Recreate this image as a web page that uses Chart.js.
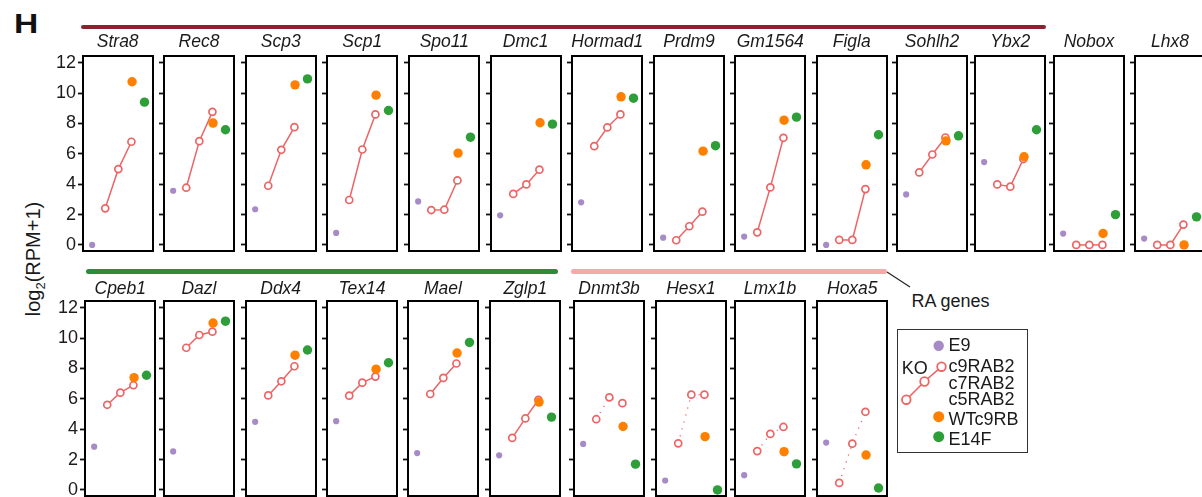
<!DOCTYPE html>
<html>
<head>
<meta charset="utf-8">
<script src="https://cdn.jsdelivr.net/npm/chart.js@4.4.1/dist/chart.umd.min.js"></script>
<style>
  html,body{margin:0;padding:0;background:#fff;}
  body{width:1202px;height:497px;overflow:hidden;position:relative;font-family:"Liberation Sans",Arial,sans-serif;color:#1a1a1a;}
  .abs{position:absolute;white-space:nowrap;}
  .gene{position:absolute;width:100px;text-align:center;font-style:italic;font-size:17.5px;line-height:17.5px;z-index:5;}
  .lg{position:absolute;font-size:18px;line-height:18px;white-space:nowrap;}
  canvas{position:absolute;}
</style>
</head>
<body>
<script>
// ---------- data ----------
const genesTop = ['Stra8','Rec8','Scp3','Scp1','Spo11','Dmc1','Hormad1','Prdm9','Gm1564','Figla','Sohlh2','Ybx2','Nobox','Lhx8'];
const genesBottom = ['Cpeb1','Dazl','Ddx4','Tex14','Mael','Zglp1','Dnmt3b','Hesx1','Lmx1b','Hoxa5'];
const raGenes = ['Dnmt3b','Hesx1','Lmx1b','Hoxa5'];
const yTicks = [0,2,4,6,8,10,12];
const seriesNames = ['E9','c5RAB2','c7RAB2','c9RAB2','WTc9RB','E14F'];
// values per gene (order: genesTop then genesBottom), log2(RPM+1)
const e9     = [0.00,3.57,2.35,0.79,2.87,1.95,2.81,0.48,0.55,0.00,3.33,5.46,0.75,0.42, 2.85,2.54,4.49,4.53,2.43,2.28,3.03,0.62,0.97,3.12];
const c5RAB2 = [2.41,3.77,3.90,2.96,2.30,3.36,6.51,0.31,0.83,0.33,4.78,3.99,0.00,0.00, 5.61,9.37,6.23,6.21,6.32,3.43,4.66,3.07,2.56,0.46];
const c7RAB2 = [5.00,6.84,6.27,6.29,2.32,3.99,7.74,1.23,3.79,0.33,5.96,3.84,0.00,0.00, 6.41,10.21,7.16,7.07,7.38,4.71,6.10,6.28,3.69,3.05];
const c9RAB2 = [6.80,8.77,7.76,8.60,4.25,4.96,8.60,2.19,7.06,3.68,7.08,5.66,0.00,1.34, 6.90,10.43,8.15,7.47,8.33,5.94,5.72,6.28,4.15,5.15];
const wtc9RB = [10.75,8.03,10.55,9.87,6.05,8.05,9.76,6.18,8.22,5.28,6.86,5.81,0.75,0.00, 7.40,11.00,8.88,7.96,9.02,5.79,4.18,3.51,2.52,2.30];
const e14F   = [9.41,7.59,10.94,8.86,7.10,7.96,9.67,6.54,8.42,7.26,7.19,7.59,2.00,1.85, 7.56,11.12,9.22,8.38,9.72,4.80,1.70,0.00,1.72,0.13];
const xPos = {E9:0, c5RAB2:1, c7RAB2:2, c9RAB2:3, WTc9RB:3.05, E14F:4};

// ---------- layout (positions only) ----------
const topLefts = [82.7,164,245.7,327.3,409.3,490.7,572.3,654,735.3,816.7,897,975.3,1054,1135];
const bottomLefts = [85.3,164,245.7,327,408,490.3,574,656,735,817.3];
const BOX_W = 70, BOX_H = 195.2;
const ROW_TOP = [56, 301];
const TITLE_TOP = [33.2, 280.2];
const Y_MIN = -0.4, Y_MAX = 12.45, X_MIN = -0.7, X_MAX = 4.65;

const PURPLE = '#a68bc7', SALMON = '#ee6464', ORANGE = '#ff8000', GREEN = '#2e9e38';

function addDiv(cls, html, style){
  const d = document.createElement('div');
  d.className = cls; d.innerHTML = html; d.setAttribute('style', style);
  document.body.appendChild(d); return d;
}

// Panel label and axis title
addDiv('abs','H','left:14px;top:10px;font-weight:bold;font-size:28px;line-height:28px;transform:scaleX(1.2);transform-origin:left top;color:#111;');
addDiv('abs','log<span style="font-size:13px;position:relative;top:5px;">2</span>(RPM+1)',
  'left:34px;top:259px;font-size:20px;line-height:20px;transform:translate(-50%,-50%) rotate(-90deg);color:#1a1a1a;');

// group bars
addDiv('abs','','left:81px;top:24.5px;width:965px;height:4.6px;border-radius:3px;background:#8c2230;');
addDiv('abs','','left:86px;top:269.4px;width:472px;height:4.6px;border-radius:3px;background:#2e8b3c;');
addDiv('abs','','left:571px;top:269.4px;width:316px;height:4.6px;border-radius:3px;background:#f7a8a8;');
addDiv('abs','RA genes','left:911.5px;top:292px;font-size:18px;line-height:18px;');

// svg overlay (connector + legend markers)
const svgNS = 'http://www.w3.org/2000/svg';
const svg = document.createElementNS(svgNS,'svg');
svg.setAttribute('width','1202'); svg.setAttribute('height','497');
svg.setAttribute('style','position:absolute;left:0;top:0;z-index:6;pointer-events:none;');
document.body.appendChild(svg);
function sv(tag, attrs){ const e = document.createElementNS(svgNS, tag); for (const k in attrs) e.setAttribute(k, attrs[k]); svg.appendChild(e); return e; }
sv('line',{x1:887,y1:272,x2:910,y2:287,stroke:'#222','stroke-width':1.2});

// legend
addDiv('abs','','left:897px;top:329.3px;width:131.3px;height:124px;border:1.5px solid #333;box-sizing:border-box;background:#fff;z-index:5;');
sv('circle',{cx:938.7,cy:345.7,r:5.2,fill:PURPLE});
sv('polyline',{points:'906.3,399.7 924.5,381.5 941.5,366.7',fill:'none',stroke:SALMON,'stroke-width':1.6});
[[906.3,399.7],[924.5,381.5],[941.5,366.7]].forEach(p=>sv('circle',{cx:p[0],cy:p[1],r:4.3,fill:'#fff',stroke:SALMON,'stroke-width':1.8}));
sv('circle',{cx:938.7,cy:416.7,r:5.5,fill:ORANGE});
sv('circle',{cx:938.7,cy:436.7,r:5.5,fill:GREEN});
const lgItems = [['E9',351],['c9RAB2',372],['c7RAB2',389.3],['c5RAB2',405.3],['WTc9RB',425.7],['E14F',445]];
lgItems.forEach(([t,b])=>addDiv('lg',t,`left:948.5px;top:${b-15.24}px;z-index:7;`));
addDiv('lg','KO','left:901.7px;top:'+(374-15.24)+'px;z-index:7;');

// ---------- charts ----------
const boxPlugin = {
  id:'panelBox',
  afterDatasetsDraw(chart){
    const {ctx, chartArea:a} = chart;
    ctx.save(); ctx.strokeStyle = '#000'; ctx.lineWidth = 2;
    ctx.strokeRect(a.left, a.top, a.right - a.left, a.bottom - a.top);
    ctx.restore();
  }
};

const allGenes = genesTop.concat(genesBottom);
allGenes.forEach((g, i) => {
  const row = i < genesTop.length ? 0 : 1;
  const left = row === 0 ? topLefts[i] : bottomLefts[i - genesTop.length];
  const first = (i === 0 || i === genesTop.length);
  const axW = first ? 50 : 6, padR = 6, padT = 16, padB = 16;

  addDiv('gene', g, `left:${left + BOX_W/2 - 50}px;top:${TITLE_TOP[row]}px;`);

  const cv = document.createElement('canvas');
  cv.width = axW + BOX_W + padR; cv.height = BOX_H + padT + padB;
  cv.style.left = (left - axW) + 'px'; cv.style.top = (ROW_TOP[row] - padT) + 'px';
  cv.style.width = cv.width + 'px'; cv.style.height = cv.height + 'px';
  document.body.appendChild(cv);

  const dotted = raGenes.includes(g);
  new Chart(cv, {
    type: 'scatter',
    data: { datasets: [
      { label:'E14F', data:[{x:xPos.E14F, y:e14F[i]}], pointRadius:4.7, backgroundColor:GREEN, borderWidth:0, order:0, clip:false },
      { label:'WTc9RB', data:[{x:xPos.WTc9RB, y:wtc9RB[i]}], pointRadius:4.7, backgroundColor:ORANGE, borderWidth:0, order:1, clip:false },
      { label:'KO', data:[{x:xPos.c5RAB2, y:c5RAB2[i]},{x:xPos.c7RAB2, y:c7RAB2[i]},{x:xPos.c9RAB2, y:c9RAB2[i]}],
        showLine:true, borderColor:SALMON, borderWidth: dotted ? 1.3 : 1.5, borderDash: dotted ? [1.2,6] : [],
        pointRadius:3.5, pointBackgroundColor:'#fff', pointBorderColor:SALMON, pointBorderWidth:1.7, order:2, clip:false },
      { label:'E9', data:[{x:xPos.E9, y:e9[i]}], pointRadius:3.1, backgroundColor:PURPLE, borderWidth:0, order:3, clip:false }
    ]},
    options: {
      responsive:false, devicePixelRatio:1, animation:false, events:[],
      layout:{ padding:{ left:0, right:padR, top:padT, bottom:padB } },
      plugins:{ legend:{display:false}, tooltip:{enabled:false} },
      scales:{
        x:{ type:'linear', min:X_MIN, max:X_MAX, display:false },
        y:{ type:'linear', min:Y_MIN, max:Y_MAX, position:'left',
            afterBuildTicks: ax => { ax.ticks = yTicks.map(v => ({value:v})); },
            afterFit: ax => { ax.width = axW; },
            border:{ display:false },
            grid:{ drawOnChartArea:false, drawTicks:true, tickLength:5, tickWidth:1.8, tickColor:'#111' },
            ticks:{ display:first, padding:2, color:'#1e1a1b', font:{ family:'Liberation Sans', size:18 } } }
      }
    },
    plugins:[boxPlugin]
  });
});
</script>
</body>
</html>
